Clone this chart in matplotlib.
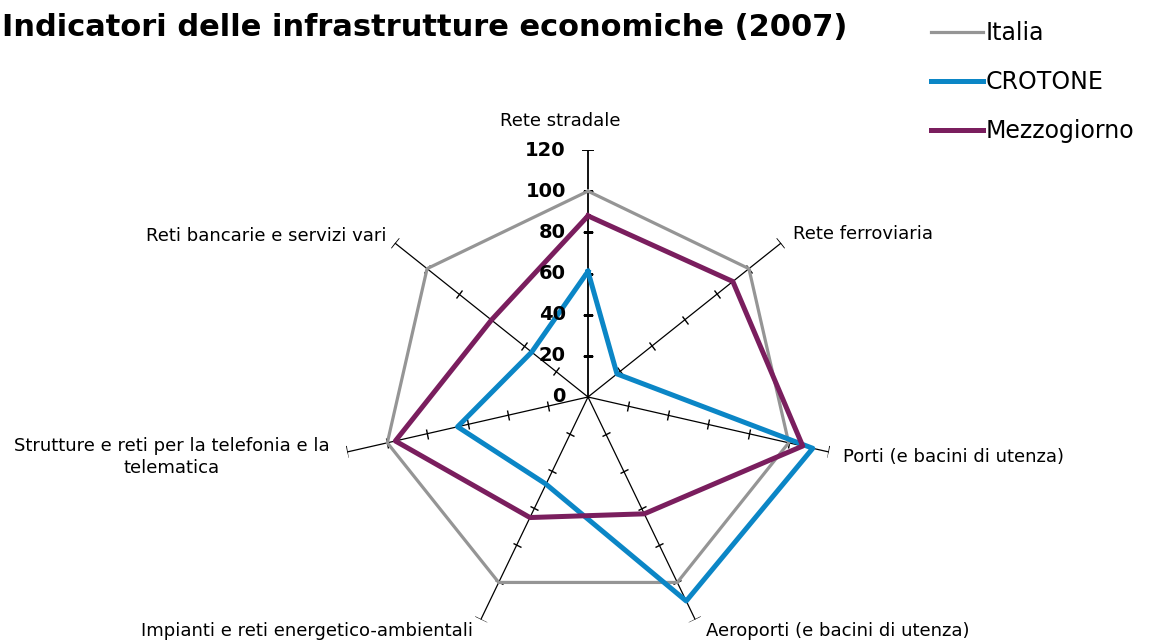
import numpy as np
import matplotlib
matplotlib.use('Agg')
import matplotlib.pyplot as plt
from matplotlib.markers import MarkerStyle
from matplotlib.transforms import Affine2D

categories = ['Rete stradale', 'Rete ferroviaria', 'Porti (e bacini di utenza)',
              'Aeroporti (e bacini di utenza)', 'Impianti e reti energetico-ambientali',
              'Strutture e reti per la telefonia e la\ntelematica', 'Reti bancarie e servizi vari']
italia = [100, 100, 100, 100, 100, 100, 100]
crotone = [61, 18, 112, 110, 47, 65, 35]
mezzogiorno = [88, 90, 107, 63, 65, 96, 60]
r_ticks = [0, 20, 40, 60, 80, 100, 120]

W, H = 1158, 640
fig = plt.figure(figsize=(W / 100, H / 100), dpi=100)

# polar axes placed so the centre sits at (588, 397) px and r=120 -> 247 px
cx, cy, R = 588, 397, 247
ax = fig.add_axes([(cx - R) / W, (H - cy - R) / H, 2 * R / W, 2 * R / H], projection='polar')
ax.set_theta_zero_location('N')
ax.set_theta_direction(-1)
ax.set_ylim(0, 120)
ax.axis('off')

n = len(categories)
angles = [2 * np.pi * i / n for i in range(n)]

# spokes with cross ticks
for i, a in enumerate(angles):
    ax.plot([a, a], [0, 120], color='black', lw=1.3 if i == 0 else 0.9, zorder=1)
    rot = 180 - np.degrees(a)
    m = MarkerStyle('_', transform=Affine2D().rotate_deg(rot))
    ax.plot([a] * 5, r_ticks[1:6], linestyle='none', marker=m, markersize=7,
            markeredgewidth=1.0, color='black', zorder=1)
    ax.plot([a], [120], linestyle='none', marker=m, markersize=9,
            markeredgewidth=1.2, color='black', zorder=1)

closed = angles + angles[:1]
l1, = ax.plot(closed, italia + italia[:1], color='#959595', lw=2.3, zorder=2, label='Italia')
l2, = ax.plot(closed, crotone + crotone[:1], color='#0B86C6', lw=3.6, zorder=3, label='CROTONE')
l3, = ax.plot(closed, mezzogiorno + mezzogiorno[:1], color='#7A1E5E', lw=3.6, zorder=4, label='Mezzogiorno')

# radial tick labels on the top spoke
for v in r_ticks:
    ax.annotate(str(v), xy=(0, v), xytext=(-16, 0), textcoords='offset points',
                ha='right', va='center', fontsize=14, fontweight='bold', zorder=5)

# category labels (pixel positions)
lab_pos = [(560, 121, 'center'), (793, 234, 'left'), (843, 457, 'left'),
           (706, 631, 'left'), (473, 631, 'right'), (172, 457, 'center'),
           (386, 236, 'right')]
for (x, y, ha), txt in zip(lab_pos, categories):
    fig.text(x / W, 1 - y / H, txt, ha=ha, va='center', fontsize=13,
             multialignment='center', linespacing=1.25)

fig.text(2 / W, 1 - 28 / H, 'Indicatori delle infrastrutture economiche (2007)',
         ha='left', va='center', fontsize=22, fontweight='bold')

fig.legend(handles=[l1, l2, l3], loc='upper left', bbox_to_anchor=(922 / W, 1 - 12 / H),
           frameon=False, fontsize=17, handlelength=2.2, handletextpad=0.1,
           labelspacing=1.05, borderaxespad=0)

plt.savefig('out.png', dpi=100)
